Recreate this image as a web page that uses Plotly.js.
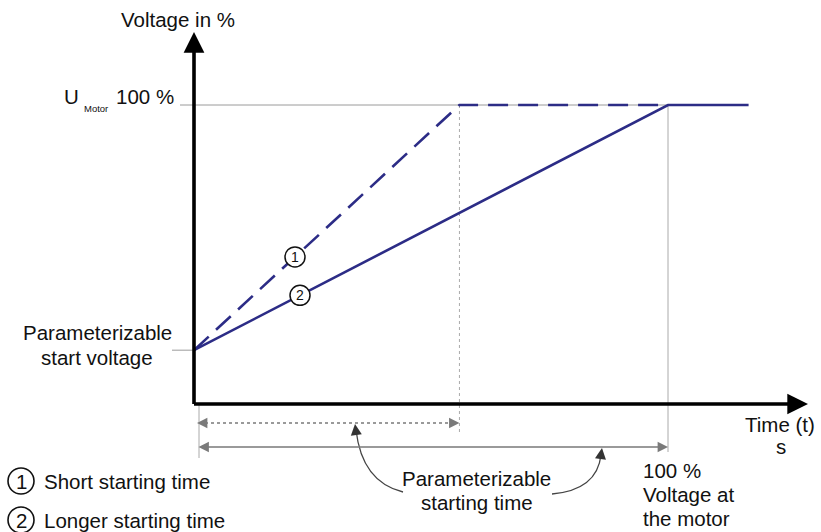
<!DOCTYPE html>
<html>
<head>
<meta charset="utf-8">
<script src="https://cdn.plot.ly/plotly-3.0.1.min.js"></script>
<style>
  html, body { margin: 0; padding: 0; background: #ffffff; }
  #chart { width: 821px; height: 532px; }
</style>
</head>
<body>
<div id="chart"></div>
<script>
// Soft-start voltage ramps: time in % of the longer starting time, voltage in %
const shortTime = [0, 56, 100];
const shortVoltage = [18, 100, 100];
const longTime = [0, 100, 117];
const longVoltage = [18, 100, 100];
const startVoltage = 18;
const fullVoltage = 100;
const rampLabels = ['1', '2'];
const legendTexts = ['Short starting time', 'Longer starting time'];

// Canvas geometry: the plot area fills the whole figure, axes are hidden
const W = 821, H = 532;
const ORIGIN_X = 194, ORIGIN_Y = 404;   // pixel position of (0, 0)
const SX = 4.74, SY = 2.99;             // pixels per unit
const dx = p => (p - ORIGIN_X) / SX;
const dy = p => (ORIGIN_Y - p) / SY;

const FONT = 'Liberation Sans, Arial, Helvetica, sans-serif';
const INK = '#111111';
const RAMP = '#2c2c86';
const GUIDE = '#9a9a9a';
const DIM = '#7a7a7a';
const TEXT_SIZE = 20.5;

function interp(xs, ys, x) {
  for (let i = 0; i < xs.length - 1; i++) {
    if (x >= xs[i] && x <= xs[i + 1]) {
      return ys[i] + (ys[i + 1] - ys[i]) * (x - xs[i]) / (xs[i + 1] - xs[i]);
    }
  }
  return ys[ys.length - 1];
}

const traces = [
  {
    x: shortTime, y: shortVoltage, type: 'scatter', mode: 'lines',
    line: { color: RAMP, width: 2.6, dash: '20px,10px' }, hoverinfo: 'skip'
  },
  {
    x: longTime, y: longVoltage, type: 'scatter', mode: 'lines',
    line: { color: RAMP, width: 2.6 }, hoverinfo: 'skip'
  }
];

const shortEnd = shortTime[1];
const longEnd = longTime[1];
const dimY1 = dy(423), dimY2 = dy(447);

const shapes = [
  // 100 % guide line
  { type: 'line', layer: 'below', x0: dx(180), x1: longEnd, y0: fullVoltage, y1: fullVoltage,
    line: { color: GUIDE, width: 1 } },
  // start voltage tick
  { type: 'line', layer: 'below', x0: dx(172), x1: 0, y0: startVoltage, y1: startVoltage,
    line: { color: GUIDE, width: 1 } },
  // end of short ramp
  { type: 'line', layer: 'below', x0: shortEnd, x1: shortEnd, y0: fullVoltage, y1: dy(433),
    line: { color: '#aaaaaa', width: 1, dash: 'dot' } },
  // end of long ramp
  { type: 'line', layer: 'below', x0: longEnd, x1: longEnd, y0: fullVoltage, y1: dy(452),
    line: { color: '#aaaaaa', width: 1 } },
  // dimension origin tick
  { type: 'line', layer: 'below', x0: dx(199), x1: dx(199), y0: 0, y1: dy(458),
    line: { color: '#aaaaaa', width: 1 } },
  // short starting time dimension (dotted)
  { type: 'line', x0: dx(199), x1: shortEnd - 1.5, y0: dimY1, y1: dimY1,
    line: { color: DIM, width: 1.3, dash: 'dot' } },
  // curved leaders from the caption
  { type: 'path', path: `M ${dx(403)},${dy(492)} Q ${dx(362)},${dy(482)} ${dx(356)},${dy(430)}`,
    line: { color: '#444444', width: 1.3 } },
  { type: 'path', path: `M ${dx(552)},${dy(494)} Q ${dx(597)},${dy(490)} ${dx(601)},${dy(455)}`,
    line: { color: '#444444', width: 1.3 } }
];

// numbered circles on the ramps
const labelX = [dx(295), dx(300)];
const labelY = [interp(shortTime, shortVoltage, labelX[0]), interp(longTime, longVoltage, labelX[1])];
const annotations = [];

function circleMark(xc, yc, d, w) {
  shapes.push({
    type: 'circle', layer: 'above', xsizemode: 'pixel', ysizemode: 'pixel',
    xanchor: xc, yanchor: yc, x0: -d / 2, x1: d / 2, y0: -d / 2, y1: d / 2,
    fillcolor: '#ffffff', line: { color: INK, width: w }
  });
}

rampLabels.forEach((t, i) => {
  circleMark(labelX[i], labelY[i], 20, 1.5);
  annotations.push({ x: labelX[i], y: labelY[i], text: t, showarrow: false,
    xanchor: 'center', yanchor: 'middle', font: { family: FONT, size: 14, color: INK } });
});

// legend rows
const legendY = [dy(481), dy(520)];
rampLabels.forEach((t, i) => {
  circleMark(dx(21), legendY[i], 26, 1.6);
  annotations.push({ x: dx(21), y: legendY[i], text: t, showarrow: false,
    xanchor: 'center', yanchor: 'middle', font: { family: FONT, size: TEXT_SIZE, color: INK } });
  annotations.push({ x: dx(42), y: legendY[i], text: legendTexts[i], showarrow: false,
    xanchor: 'left', yanchor: 'middle', font: { family: FONT, size: TEXT_SIZE, color: INK } });
});

function arrow(x, y, ax, ay, width, size, color, extra) {
  return Object.assign({
    x: x, y: y, ax: ax, ay: ay, axref: 'x', ayref: 'y', xref: 'x', yref: 'y',
    text: '', showarrow: true, arrowhead: 2, arrowsize: size, arrowwidth: width,
    arrowcolor: color, standoff: 0, startstandoff: 0
  }, extra || {});
}

// axes
annotations.push(arrow(dx(808), 0, dx(192.5), 0, 3.6, 1.15, '#000000'));
annotations.push(arrow(0, dy(32), 0, dy(405.5), 3.6, 1.15, '#000000'));

// dimension arrows
annotations.push(arrow(dx(197), dimY1, dx(203), dimY1, 1.3, 1.6, DIM));
annotations.push(arrow(shortEnd, dimY1, shortEnd - 1.5, dimY1, 1.3, 1.6, DIM));
annotations.push(arrow(longEnd, dimY2, dx(197), dimY2, 1.3, 1.6, DIM,
  { arrowside: 'end+start', startarrowhead: 2, startarrowsize: 1.6 }));

// heads of the curved leaders
annotations.push(arrow(dx(355), dy(424), dx(356.2), dy(434), 1.3, 1.7, '#333333'));
annotations.push(arrow(dx(602), dy(448), dx(600.6), dy(458), 1.3, 1.7, '#333333'));

function label(text, xp, yp, size, anchor) {
  annotations.push({ x: dx(xp), y: dy(yp), text: text, showarrow: false,
    xanchor: anchor || 'center', yanchor: 'middle',
    font: { family: FONT, size: size, color: INK } });
}

label('Voltage in %', 178, 19, TEXT_SIZE);
label('U', 71.5, 96.5, TEXT_SIZE);
label('Motor', 96, 108, 9.5);
label('100 %', 176, 96.5, TEXT_SIZE, 'right');
label('Parameterizable', 97, 332, TEXT_SIZE);
label('start voltage', 97, 357, TEXT_SIZE);
label('Time (t)', 780, 424, TEXT_SIZE);
label('s', 781, 446, TEXT_SIZE);
label('Parameterizable', 476, 478, TEXT_SIZE);
label('starting time', 477, 502, TEXT_SIZE);
label('100 %', 641, 470, TEXT_SIZE, 'left');
label('Voltage at', 641, 494, TEXT_SIZE, 'left');
label('the motor', 641, 518, TEXT_SIZE, 'left');

const layout = {
  width: W, height: H,
  margin: { l: 0, r: 0, t: 0, b: 0, pad: 0 },
  paper_bgcolor: '#ffffff', plot_bgcolor: '#ffffff',
  showlegend: false,
  xaxis: { range: [dx(0), dx(W)], visible: false, fixedrange: true },
  yaxis: { range: [dy(H), dy(0)], visible: false, fixedrange: true },
  shapes: shapes,
  annotations: annotations
};

Plotly.newPlot('chart', traces, layout, { staticPlot: true, displayModeBar: false });
</script>
</body>
</html>
